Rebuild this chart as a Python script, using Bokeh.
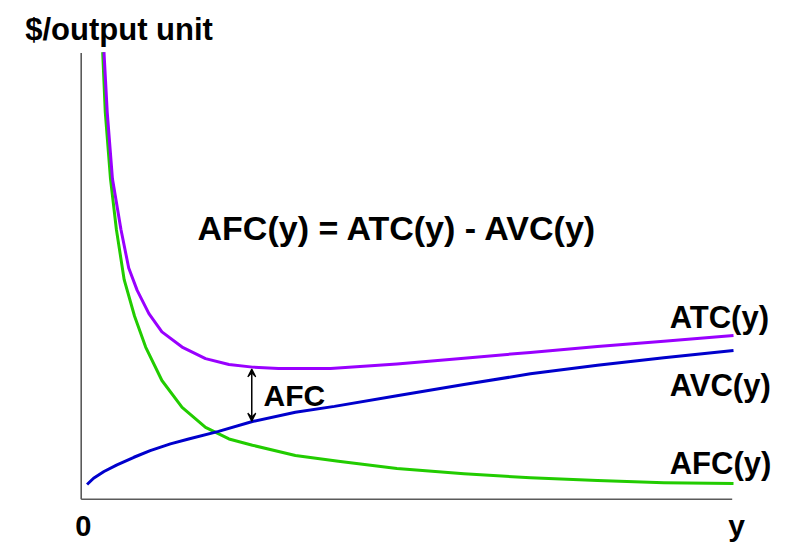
from bokeh.plotting import figure
from bokeh.models import Range1d, Arrow, VeeHead
from bokeh.core.properties import value
from bokeh.embed import file_html
from bokeh.resources import INLINE

# curves (output y, $ per unit)
atc_x = [0.35, 0.40, 0.48, 0.61, 0.73, 0.86, 1.04, 1.24, 1.55, 1.91, 2.27, 2.63, 3.03, 3.83, 4.85, 5.88, 6.90, 7.93, 8.95, 10.02]
atc_y = [10.02, 8.67, 7.18, 6.05, 5.18, 4.68, 4.16, 3.75, 3.41, 3.15, 3.02, 2.96, 2.93, 2.93, 3.03, 3.16, 3.29, 3.42, 3.54, 3.67]

afc_x = [0.33, 0.37, 0.45, 0.54, 0.66, 0.82, 0.99, 1.24, 1.55, 1.91, 2.27, 2.63, 3.29, 3.95, 4.85, 5.88, 6.90, 7.93, 8.95, 10.02]
afc_y = [10.02, 8.67, 7.18, 6.05, 4.92, 4.10, 3.41, 2.66, 2.06, 1.61, 1.35, 1.21, 0.98, 0.85, 0.69, 0.57, 0.48, 0.42, 0.37, 0.35]

avc_x = [0.09, 0.19, 0.35, 0.55, 0.81, 1.06, 1.37, 1.65, 2.11, 2.63, 3.29, 3.89, 4.85, 5.88, 6.90, 7.93, 8.95, 10.02]
avc_y = [0.33, 0.47, 0.62, 0.77, 0.94, 1.09, 1.24, 1.35, 1.52, 1.74, 1.95, 2.08, 2.32, 2.57, 2.81, 3.00, 3.17, 3.33]

gap_x = 2.62          # where the AFC gap is marked
gap_top = 2.92        # ATC there
gap_bottom = 1.75     # AVC there

x_max = 10.0
y_max = 10.0

W, H = 780, 543
# pixel calibration of the drawing
ox, oy = 80.7, 498.7     # origin in figure pixels
sx, sy = 65.1, 44.62     # pixels per unit

p = figure(width=W, height=H, output_backend="svg", toolbar_location=None,
           x_range=Range1d(-ox / sx, (W - ox) / sx),
           y_range=Range1d(-(H - oy) / sy, oy / sy),
           min_border=0)
p.axis.visible = False
p.grid.visible = False
p.outline_line_color = None
p.background_fill_color = "white"
p.border_fill_color = "white"

# axes
p.segment(x0=[0, 0], y0=[0, 0], x1=[x_max, 0], y1=[0, y_max],
          line_color="#5a5a5a", line_width=1.6)

p.line(afc_x, afc_y, line_color="#22cc00", line_width=3, line_join="round")
p.line(atc_x, atc_y, line_color="#9900ff", line_width=3, line_join="round")
p.line(avc_x, avc_y, line_color="#0000cc", line_width=3, line_join="round")

p.add_layout(Arrow(x_start=gap_x, y_start=gap_top, x_end=gap_x, y_end=gap_bottom,
                   line_color="black", line_width=1.5,
                   start=VeeHead(size=8, line_color="black", line_width=1.2, fill_color="black"),
                   end=VeeHead(size=8, line_color="black", line_width=1.2, fill_color="black")))

font = value("Liberation Sans")


def txt(x, y, s, size="30px", align="left"):
    p.text(x=[x], y=[y], text=[s], text_font=font, text_font_size=size,
           text_font_style="bold", text_color="black",
           text_align=align, text_baseline="alphabetic")


txt(-0.86, 10.52, "$/output unit", "31px")
txt(4.86, 6.08, "AFC(y) = ATC(y) - AVC(y)", "34px", "center")
txt(9.04, 4.08, "ATC(y)", "31px")
txt(9.04, 2.54, "AVC(y)", "31px")
txt(9.04, 0.79, "AFC(y)", "31px")
txt(2.80, 2.32, "AFC", "30px")
txt(-0.09, -0.60, "0", "29px")
txt(9.94, -0.60, "y", "30px")

open("out.html", "w").write(file_html(p, INLINE))
